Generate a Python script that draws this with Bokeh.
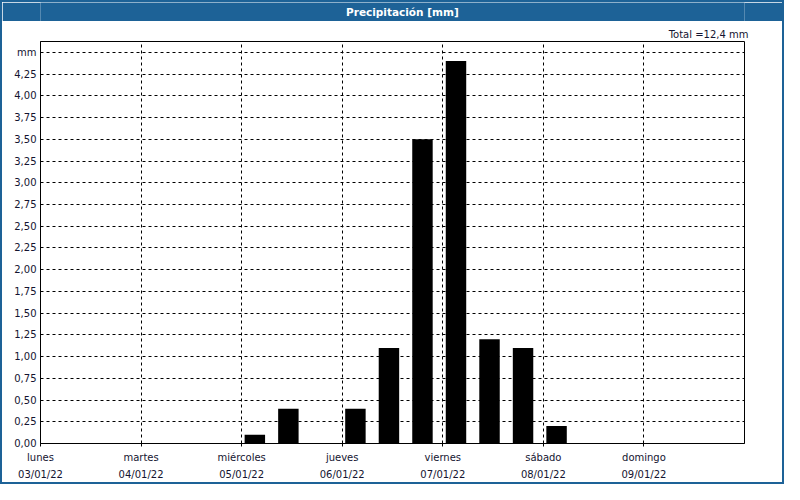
from bokeh.plotting import figure
from bokeh.layouts import column
from bokeh.models import FixedTicker, ColumnDataSource, LinearAxis, Title
from bokeh.core.properties import value
from bokeh.embed import file_html
from bokeh.resources import INLINE

# ---- data ----
dates = ["03/01/22", "04/01/22", "05/01/22", "06/01/22", "07/01/22", "08/01/22", "09/01/22"]
weekdays = ["lunes", "martes", "miércoles", "jueves", "viernes", "sábado", "domingo"]
periods_per_day = 3  # 8-hour periods
precip_mm = [
    0.0, 0.0, 0.0,   # lunes
    0.0, 0.0, 0.0,   # martes
    0.1, 0.4, 0.0,   # miércoles
    0.4, 1.1, 3.5,   # jueves
    4.4, 1.2, 1.1,   # viernes
    0.2, 0.0, 0.0,   # sábado
    0.0, 0.0, 0.0,   # domingo
]
y_ticks = [i * 0.25 for i in range(19)]  # 0 .. 4.5

BLUE = "#1d6297"
TXT = "#141430"
FONT = "DejaVu Sans"

period_h = 24 / periods_per_day
bar_x = []
for i, v in enumerate(precip_mm):
    start = i * period_h
    bar_x.append(start + period_h * 0.394)
bar_w = period_h * 0.61

total = sum(precip_mm)

# ---- title bar ----
tb = figure(width=780, height=19, x_range=(0, 1), y_range=(0, 1),
            toolbar_location=None, output_backend="svg", min_border=0)
tb.axis.visible = False
tb.grid.visible = False
tb.outline_line_color = None
tb.background_fill_color = BLUE
tb.border_fill_color = BLUE
tb.text(x=[0.514], y=[0.5], text=["Precipitación [mm]"], text_color="white",
        text_font=value(FONT), text_font_size="10.5px", text_font_style="bold",
        text_align="center", text_baseline="middle")

# ---- main plot ----
n_days = len(dates)
p = figure(width=780, height=461, toolbar_location=None, output_backend="svg",
           x_range=(0, 24 * n_days), y_range=(0, 4.625),
           min_border_left=38, min_border_right=38, min_border_top=20, min_border_bottom=38)
p.background_fill_color = "white"
p.border_fill_color = "white"
p.outline_line_color = "black"
p.outline_line_alpha = 1.0
p.outline_line_width = 1

p.title = Title(text=f"Total ={total:.1f} mm".replace(".", ","), align="right",
                text_font=FONT, text_font_size="10px", text_font_style="normal",
                text_color=TXT, standoff=3, offset=-4)

src = ColumnDataSource(dict(x=bar_x, top=precip_mm))
p.vbar(x="x", top="top", bottom=0, width=bar_w, source=src,
       fill_color="black", line_color=None)

x_ticks = [d * 24 for d in range(n_days)]
p.xaxis.ticker = FixedTicker(ticks=x_ticks)
p.xaxis.major_label_overrides = {t: w for t, w in zip(x_ticks, weekdays)}

date_axis = LinearAxis(ticker=FixedTicker(ticks=x_ticks),
                       major_label_overrides={t: d for t, d in zip(x_ticks, dates)})
date_axis.axis_line_color = None
date_axis.major_tick_line_color = None
date_axis.major_tick_out = 0
date_axis.major_tick_in = 0
date_axis.major_label_standoff = 3
p.add_layout(date_axis, "below")

p.yaxis.ticker = FixedTicker(ticks=y_ticks)
ov = {}
for t in y_ticks:
    ov[t] = f"{t:.2f}".replace(".", ",")
ov[y_ticks[-1]] = "mm"
p.yaxis.major_label_overrides = ov

for ax in (p.xaxis[0], p.yaxis[0], date_axis):
    ax.major_label_text_font = FONT
    ax.major_label_text_font_size = "10px"
    ax.major_label_text_color = TXT
    ax.minor_tick_line_color = None
    ax.major_tick_in = 0
p.xaxis[0].axis_line_color = "black"
p.yaxis.axis_line_color = "black"
p.yaxis.major_tick_out = 0
p.yaxis.major_label_standoff = 4
p.xaxis[0].major_tick_out = 3
p.xaxis[0].major_tick_line_color = "black"
p.xaxis[0].major_label_standoff = 5

p.xgrid.ticker = FixedTicker(ticks=x_ticks)
p.ygrid.ticker = FixedTicker(ticks=y_ticks)
for g in (p.xgrid, p.ygrid):
    g.grid_line_color = "black"
    g.grid_line_dash = "3 3"
    g.grid_line_width = 1

layout = column(tb, p, spacing=0, styles={"border": f"2px solid {BLUE}"})

open("out.html", "w").write(file_html(layout, INLINE))
